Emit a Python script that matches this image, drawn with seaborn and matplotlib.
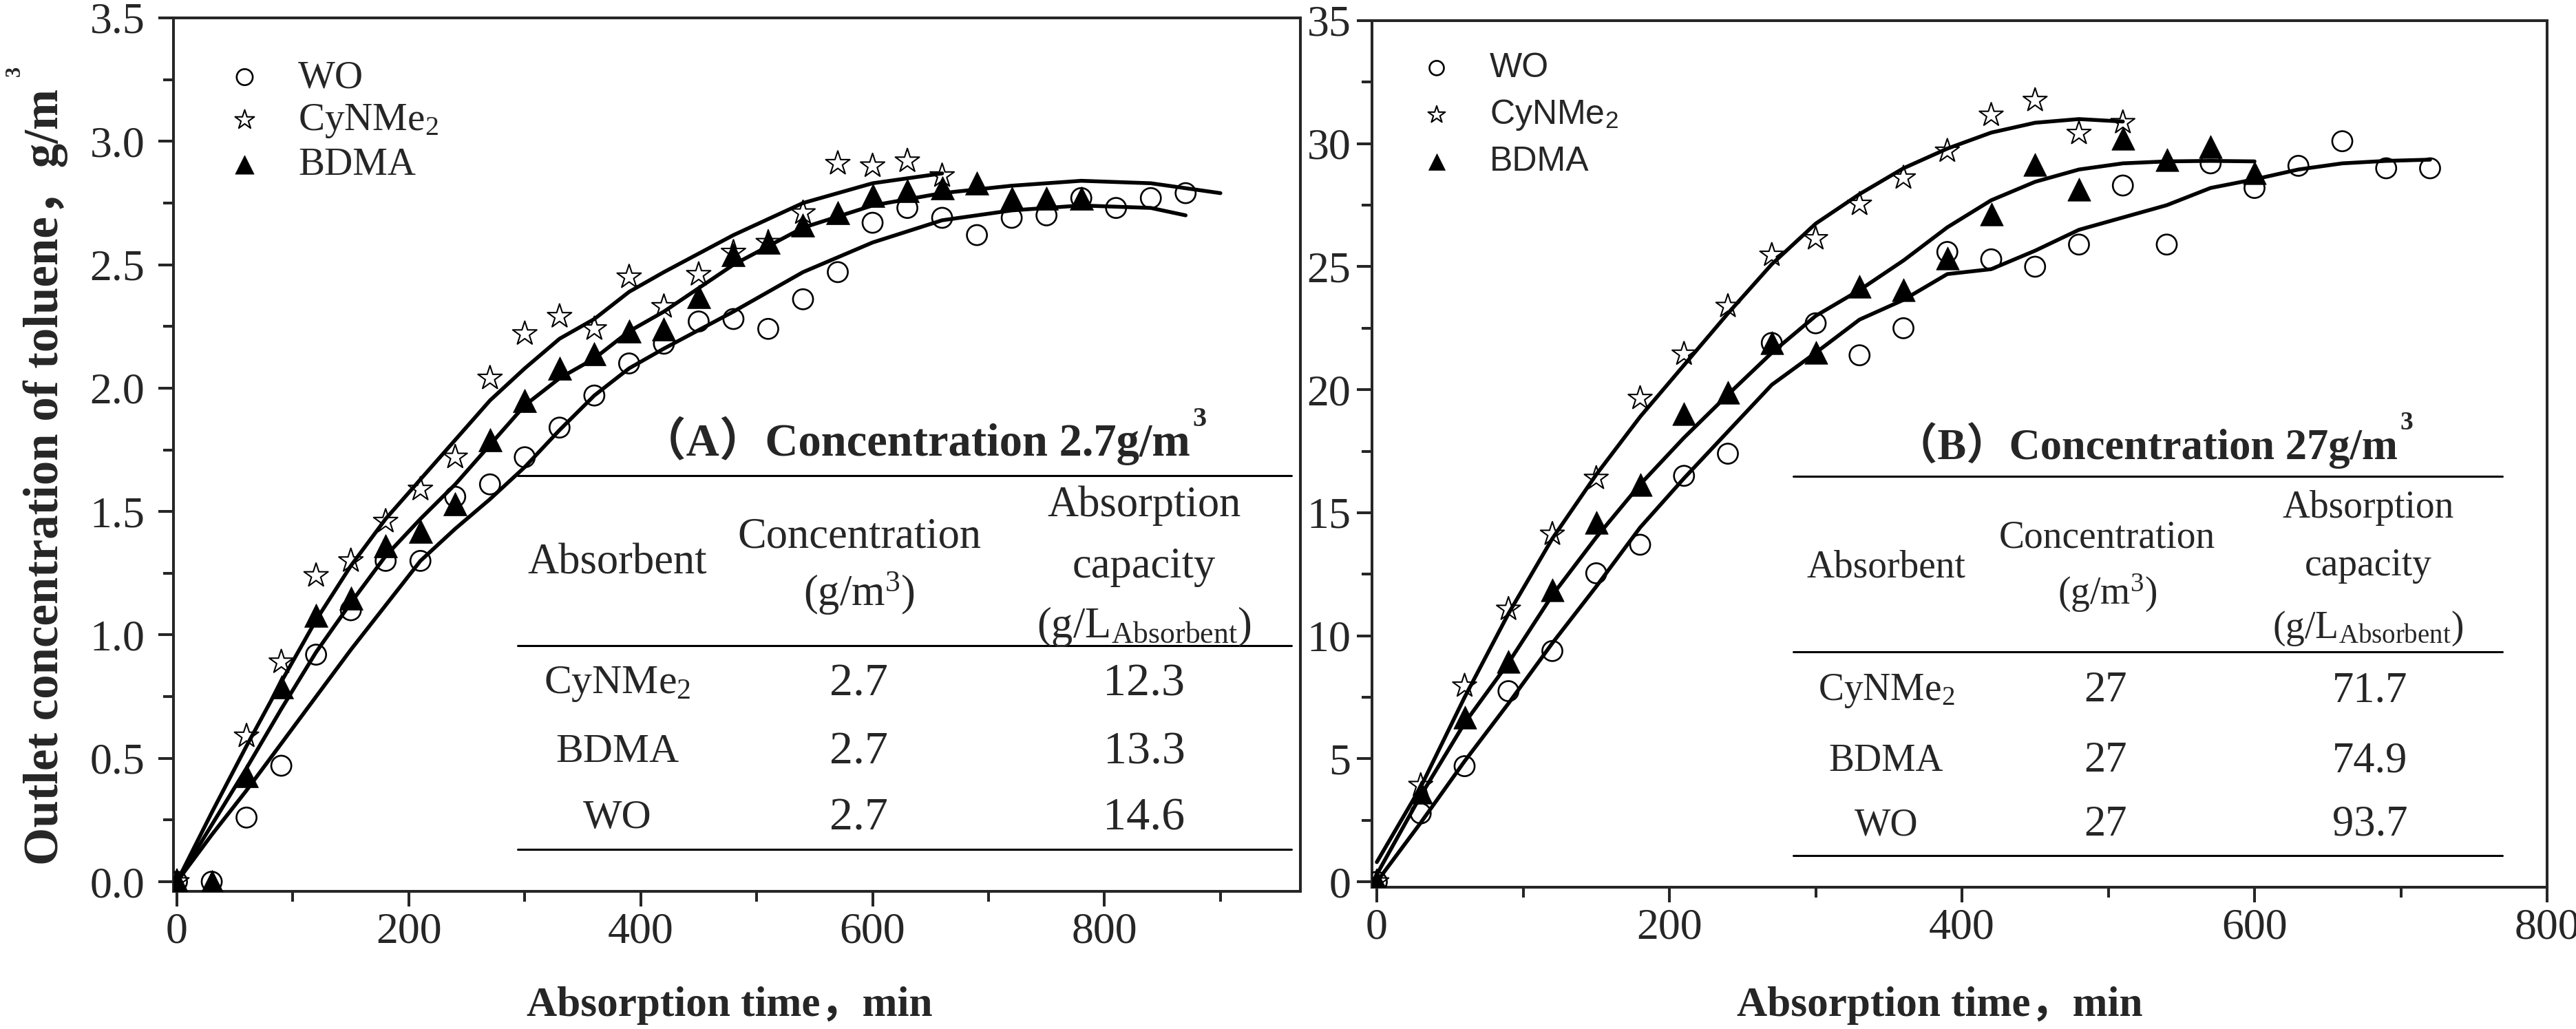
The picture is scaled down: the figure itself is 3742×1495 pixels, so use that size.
import numpy as np
import pandas as pd
import seaborn as sns
import matplotlib.pyplot as plt
from matplotlib.lines import Line2D
from matplotlib.ticker import MultipleLocator, FormatStrFormatter

# ---------------- (A) inlet 2.7 g/m3 ----------------
wo_t_a = [0, 30, 60, 90, 120, 150, 180, 210, 240, 270, 300, 330, 360, 390, 420,
          450, 480, 510, 540, 570, 600, 630, 660, 690, 720, 750, 780, 810, 840, 870]
wo_a = [0, 0, 0.26, 0.47, 0.92, 1.10, 1.30, 1.30, 1.56, 1.61, 1.72, 1.84, 1.97, 2.10, 2.18,
        2.27, 2.28, 2.24, 2.36, 2.47, 2.67, 2.73, 2.69, 2.62, 2.69, 2.70, 2.77, 2.73, 2.77, 2.79]
cy_t_a = [0, 60, 90, 120, 150, 180, 210, 240, 270, 300, 330, 360, 390, 420, 450,
          480, 510, 540, 570, 600, 630, 660]
cy_a = [0, 0.59, 0.89, 1.24, 1.30, 1.46, 1.59, 1.72, 2.04, 2.22, 2.29, 2.24, 2.45, 2.33, 2.46,
        2.55, 2.59, 2.71, 2.91, 2.90, 2.92, 2.86]
bd_t_a = [0, 30, 60, 90, 120, 150, 180, 210, 240, 270, 300, 330, 360, 390, 420,
          450, 480, 510, 540, 570, 600, 630, 660, 690, 720, 750, 780]
bd_a = [0, 0, 0.43, 0.79, 1.08, 1.15, 1.36, 1.42, 1.53, 1.79, 1.95, 2.08, 2.14, 2.23, 2.24,
        2.37, 2.54, 2.59, 2.66, 2.71, 2.78, 2.80, 2.81, 2.83, 2.77, 2.77, 2.77]

# fitted curves (A)
fit_t_cy_a = [0, 30, 60, 90, 120, 150, 180, 210, 240, 270, 300, 330, 360, 390, 420,
              480, 540, 600, 660]
fit_cy_a = [0, 0.28, 0.55, 0.81, 1.06, 1.28, 1.47, 1.63, 1.79, 1.95, 2.08, 2.20, 2.28, 2.39, 2.47,
            2.62, 2.75, 2.83, 2.87]
fit_t_bd_a = [0, 30, 60, 90, 120, 150, 180, 210, 240, 270, 300, 330, 360, 390, 420,
              480, 540, 600, 660, 720, 780, 840, 900]
fit_bd_a = [0, 0.23, 0.46, 0.70, 0.93, 1.13, 1.32, 1.47, 1.61, 1.77, 1.93, 2.04, 2.12, 2.23, 2.31,
            2.50, 2.65, 2.74, 2.79, 2.82, 2.84, 2.83, 2.79]
fit_t_wo_a = [0, 30, 60, 90, 120, 150, 180, 210, 240, 270, 300, 330, 360, 390, 420,
              480, 540, 600, 660, 720, 780, 840, 870]
fit_wo_a = [0, 0.19, 0.37, 0.56, 0.75, 0.94, 1.12, 1.30, 1.43, 1.55, 1.68, 1.83, 1.97, 2.08, 2.16,
            2.31, 2.47, 2.59, 2.68, 2.72, 2.74, 2.73, 2.70]

# ---------------- (B) inlet 27 g/m3 ----------------
wo_t_b = [0, 30, 60, 90, 120, 150, 180, 210, 240, 270, 300, 330, 360, 390, 420,
          450, 480, 510, 540, 570, 600, 630, 660, 690, 720]
wo_b = [0, 2.78, 4.70, 7.75, 9.38, 12.54, 13.70, 16.5, 17.4, 21.9, 22.7, 21.4, 22.5, 25.6, 25.3,
        25.0, 25.9, 28.3, 25.9, 29.2, 28.2, 29.1, 30.1, 29.0, 29.0]
cy_t_b = [0, 30, 60, 90, 120, 150, 180, 210, 240, 270, 300, 330, 360, 390, 420, 450, 480, 510]
cy_b = [0, 3.92, 7.96, 11.08, 14.13, 16.4, 19.65, 21.45, 23.39, 25.47, 26.14, 27.54, 28.61, 29.7,
        31.16, 31.76, 30.42, 30.86]
bd_t_b = [0, 30, 60, 90, 120, 150, 180, 210, 240, 270, 300, 330, 360, 390, 420,
          450, 480, 510, 540, 570, 600]
bd_b = [0, 3.63, 6.68, 8.95, 11.86, 14.6, 16.15, 19.04, 19.9, 21.92, 21.52, 24.2, 24.06, 25.35,
        27.14, 29.15, 28.14, 30.22, 29.35, 29.89, 28.81]

# fitted curves (B)
fit_t_cy_b = [0, 30, 60, 90, 120, 150, 180, 210, 240, 270, 300, 330, 360, 390, 420, 450, 480, 510]
fit_cy_b = [0.8, 3.85, 7.5, 10.9, 13.95, 16.55, 18.9, 21.0, 23.1, 25.1, 26.75, 27.95, 29.0, 29.8,
            30.45, 30.85, 31.0, 30.9]
fit_t_bd_b = [0, 30, 60, 90, 120, 150, 180, 210, 240, 270, 300, 330, 360, 390, 420,
              450, 480, 510, 540, 570, 600]
fit_bd_b = [0.3, 3.5, 6.45, 8.9, 11.65, 14.0, 16.15, 18.05, 19.8, 21.5, 23.0, 24.05, 25.25, 26.6,
            27.7, 28.45, 28.95, 29.2, 29.28, 29.3, 29.28]
fit_t_wo_b = [0, 30, 60, 90, 120, 150, 180, 210, 240, 270, 300, 330, 360, 390, 420,
              450, 480, 510, 540, 570, 600, 630, 660, 690, 720]
fit_wo_b = [0, 2.4, 4.9, 7.25, 9.7, 12.0, 14.4, 16.4, 18.3, 20.2, 21.5, 22.85, 23.65, 24.7, 24.9,
            25.65, 26.5, 27.0, 27.5, 28.2, 28.55, 28.95, 29.2, 29.3, 29.35]

# inset tables
absorbents = ['CyNMe$_2$', 'BDMA', 'WO']
conc_a = ['2.7', '2.7', '2.7']
capacity_a = ['12.3', '13.3', '14.6']
conc_b = ['27', '27', '27']
capacity_b = ['71.7', '74.9', '93.7']
headers = ['Absorbent', 'Concentration', '(g/m$^3$)', 'Absorption', 'capacity',
           '(g/L$_{\\mathrm{Absorbent}}$)']

sns.set_style('ticks')
plt.rcParams['font.family'] = ['Liberation Serif', 'Noto Sans CJK SC']
plt.rcParams['mathtext.fontset'] = 'custom'
plt.rcParams['mathtext.rm'] = 'Liberation Serif'
plt.rcParams['mathtext.it'] = 'Liberation Serif:italic'
plt.rcParams['mathtext.bf'] = 'Liberation Serif:bold'
plt.rcParams['mathtext.sf'] = 'Liberation Sans'

W, H = 3742, 1495
fig = plt.figure(figsize=(W / 100, H / 100), dpi=100)
axA = fig.add_axes([252 / W, 1 - 1295 / H, (1889 - 252) / W, (1295 - 26) / H])
axB = fig.add_axes([1993 / W, 1 - 1289 / H, (3700 - 1993) / W, (1289 - 30) / H])


def P(x, y):
    return x / W, 1 - y / H


def draw(ax, fits, pts, sizes):
    for ft, fv in fits:
        sns.lineplot(x=ft, y=fv, ax=ax, color='black', lw=4.0, sort=False,
                     estimator=None, zorder=2)
    (wt, wv), (ct, cv), (bt, bv) = pts
    sns.scatterplot(x=wt, y=wv, ax=ax, marker='o', s=sizes[0], color='none',
                    edgecolor='black', linewidth=1.9, label='WO', zorder=3)
    sns.scatterplot(x=ct, y=cv, ax=ax, marker='*', s=sizes[1], color='none',
                    edgecolor='black', linewidth=1.5, label='CyNMe2', zorder=3)
    sns.scatterplot(x=bt, y=bv, ax=ax, marker='^', s=sizes[2], color='black',
                    edgecolor='black', linewidth=0.5, label='BDMA', zorder=3)
    for s in ax.spines.values():
        s.set_linewidth(2.9)
        s.set_visible(True)
    ax.xaxis.set_major_locator(MultipleLocator(200))
    ax.xaxis.set_minor_locator(MultipleLocator(100))
    ax.tick_params(which='both', direction='out', top=False, right=False, width=2.9,
                   labelsize=46)
    ax.tick_params(which='major', length=16)
    ax.tick_params(which='minor', length=11)
    ax.tick_params(axis='x', which='major', pad=6)
    ax.set_xlabel('')
    ax.set_ylabel('')


draw(axA, [(fit_t_cy_a, fit_cy_a), (fit_t_bd_a, fit_bd_a), (fit_t_wo_a, fit_wo_a)],
     [(wo_t_a, wo_a), (cy_t_a, cy_a), (bd_t_a, bd_a)], (440, 700, 600))
draw(axB, [(fit_t_cy_b, fit_cy_b), (fit_t_bd_b, fit_bd_b), (fit_t_wo_b, fit_wo_b)],
     [(wo_t_b, wo_b), (cy_t_b, cy_b), (bd_t_b, bd_b)], (440, 680, 580))

axA.set_xlim(-3, 969)
axA.set_ylim(-0.039, 3.5)
axA.yaxis.set_major_locator(MultipleLocator(0.5))
axA.yaxis.set_minor_locator(MultipleLocator(0.25))
axA.yaxis.set_major_formatter(FormatStrFormatter('%.1f'))
axA.tick_params(axis='y', which='major', pad=14)

axB.set_xlim(-3.3, 800)
axB.set_ylim(-0.22, 35)
axB.yaxis.set_major_locator(MultipleLocator(5))
axB.yaxis.set_minor_locator(MultipleLocator(2.5))
axB.tick_params(axis='y', which='major', pad=6)

# legends
hA, _ = axA.get_legend_handles_labels()
axA.legend(hA, ['WO', 'CyNMe$_2$', 'BDMA'], loc='upper left', bbox_to_anchor=P(327, 87),
           bbox_transform=fig.transFigure, frameon=False, borderpad=0, borderaxespad=0,
           handlelength=1.0, handletextpad=0.86, labelspacing=0.18, markerscale=0.8,
           prop={'family': 'Liberation Serif', 'size': 41})
hB, _ = axB.get_legend_handles_labels()
axB.legend(hB, ['WO', 'CyNMe$_\\mathsf{2}$', 'BDMA'], loc='upper left', bbox_to_anchor=P(2062, 76),
           bbox_transform=fig.transFigure, frameon=False, borderpad=0, borderaxespad=0,
           handlelength=1.0, handletextpad=1.04, labelspacing=0.4, markerscale=0.72,
           prop={'family': 'Liberation Sans', 'size': 36})

# axis labels
tY = fig.text(*P(66, 693), 'Outlet concentration of toluene\uff0cg/m', rotation=90,
              ha='center', va='center', fontsize=51, fontweight='bold')
axA.annotate('3', xy=(21, 1.0), xycoords=('figure pixels', tY), xytext=(0, 18),
             textcoords='offset pixels', rotation=90, ha='center', va='bottom',
             fontsize=22, fontweight='bold')
fig.text(*P(1060, 1476), 'Absorption time\uff0cmin', ha='center', va='baseline',
         fontsize=44, fontweight='bold')
fig.text(*P(2818, 1476), 'Absorption time\uff0cmin', ha='center', va='baseline',
         fontsize=44, fontweight='bold')

# titles
tA = fig.text(*P(930, 662), '\uff08A\uff09Concentration 2.7g/m', ha='left', va='baseline',
              fontsize=48, fontweight='bold')
axA.annotate('3', xy=(1.0, H - 619), xycoords=(tA, 'figure pixels'), xytext=(3, 0),
             textcoords='offset pixels', ha='left', va='baseline', fontsize=29,
             fontweight='bold')
tB = fig.text(*P(2752, 667), '\uff08B\uff09Concentration 27g/m', ha='left', va='baseline',
              fontsize=45, fontweight='bold')
axB.annotate('3', xy=(1.0, H - 624), xycoords=(tB, 'figure pixels'), xytext=(3, 0),
             textcoords='offset pixels', ha='left', va='baseline', fontsize=27,
             fontweight='bold')


def table(x0, x1, line_y, head_pos, col_x, row_y, conc, cap, fs):
    for y in line_y:
        fig.add_artist(Line2D([x0 / W, x1 / W], [1 - y / H, 1 - y / H], color='black', lw=2.2))
    for (hx, hy), txt in zip(head_pos, headers):
        fig.text(*P(hx, hy), txt, ha='center', va='center', fontsize=fs[0])
    for i, y in enumerate(row_y):
        fig.text(*P(col_x[0], y), absorbents[i], ha='center', va='center', fontsize=fs[1])
        fig.text(*P(col_x[1], y), conc[i], ha='center', va='center', fontsize=fs[2])
        fig.text(*P(col_x[2], y), cap[i], ha='center', va='center', fontsize=fs[2])


table(752, 1876, [691, 938, 1234],
      [(897, 819), (1248, 781), (1248, 862), (1662, 735), (1662, 824), (1662, 910)],
      [897, 1248, 1662], [994, 1093, 1189], conc_a, capacity_a, (45, 43, 49))
table(2605, 3635, [692, 947, 1243],
      [(2740, 824), (3061, 781), (3061, 862), (3440, 738), (3440, 822), (3440, 913)],
      [2740, 3058, 3443], [1004, 1106, 1199], conc_b, capacity_b, (40, 40, 45))

fig.savefig('out.png', dpi=100, facecolor='white')
